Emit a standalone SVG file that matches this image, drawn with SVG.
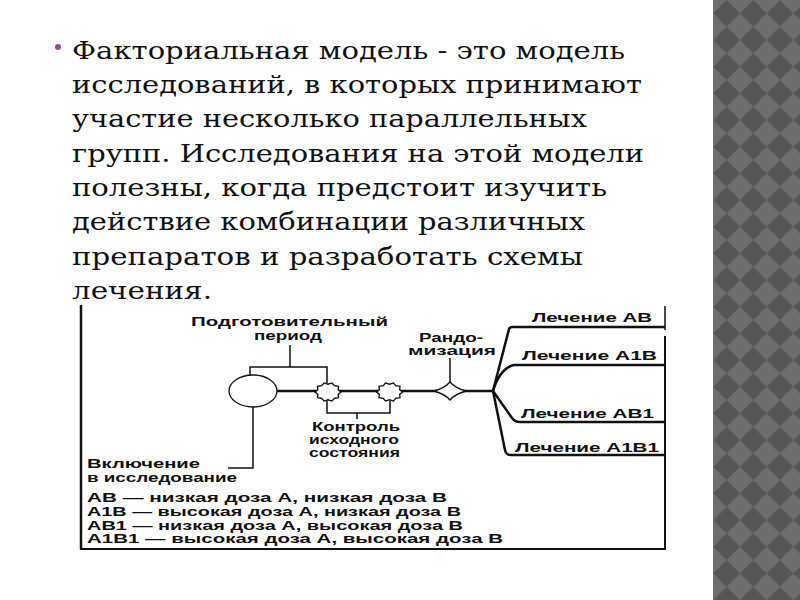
<svg xmlns="http://www.w3.org/2000/svg" width="800" height="600" viewBox="0 0 800 600">
<style>
.mt{font-family:"DejaVu Serif","Liberation Serif",serif;font-size:24px;fill:#111}
.dl{font-family:"Liberation Sans",Arial,sans-serif;font-size:12px;font-weight:bold;fill:#111}
.ln{fill:none;stroke:#111;stroke-width:1.5}
.th{fill:none;stroke:#111;stroke-width:2.5}
.sh{fill:#fff;stroke:#111;stroke-width:1.3}
</style>
<defs>
<pattern id="chk" patternUnits="userSpaceOnUse" x="713.3" y="0" width="26.67" height="26.67">
<rect width="26.67" height="26.67" fill="#6e6e6e"/>
<polygon points="13.33,0 26.67,13.33 13.33,26.67 0,13.33" fill="#565656"/>
</pattern>
<polygon id="star" vector-effect="non-scaling-stroke" points="1,0 0.78,0.25 0.81,0.59 0.48,0.66 0.31,0.95 0,0.82 -0.31,0.95 -0.48,0.66 -0.81,0.59 -0.78,0.25 -1,0 -0.78,-0.25 -0.81,-0.59 -0.48,-0.66 -0.31,-0.95 0,-0.82 0.31,-0.95 0.48,-0.66 0.81,-0.59 0.78,-0.25"/>
</defs>
<rect width="800" height="600" fill="#fff"/>
<rect x="713" y="0" width="87" height="600" fill="url(#chk)"/>

<g id="bullet-text">
<circle cx="58" cy="47" r="3" fill="#9c4596"/>
<text class="mt" x="72" y="59" textLength="553" lengthAdjust="spacingAndGlyphs">Факториальная модель - это модель</text>
<text class="mt" x="72" y="93" textLength="570" lengthAdjust="spacingAndGlyphs">исследований, в которых принимают</text>
<text class="mt" x="72" y="127" textLength="515" lengthAdjust="spacingAndGlyphs">участие несколько параллельных</text>
<text class="mt" x="72" y="162" textLength="572" lengthAdjust="spacingAndGlyphs">групп. Исследования на этой модели</text>
<text class="mt" x="72" y="196" textLength="535" lengthAdjust="spacingAndGlyphs">полезны, когда предстоит изучить</text>
<text class="mt" x="72" y="230" textLength="513" lengthAdjust="spacingAndGlyphs">действие комбинации различных</text>
<text class="mt" x="72" y="265" textLength="511" lengthAdjust="spacingAndGlyphs">препаратов и разработать схемы</text>
<text class="mt" x="72" y="299" textLength="140" lengthAdjust="spacingAndGlyphs">лечения.</text>
</g>

<g id="frame">
<line x1="81" y1="305" x2="81" y2="549" stroke="#111" stroke-width="2.5"/>
<line x1="80" y1="549" x2="666" y2="549" stroke="#111" stroke-width="2"/>
<line x1="665" y1="306" x2="665" y2="330" stroke="#111" stroke-width="1.5"/>
<line x1="665" y1="336" x2="665" y2="549" stroke="#111" stroke-width="2"/>
</g>

<g id="connectors">
<line class="th" x1="277" y1="391" x2="493" y2="391" stroke-width="3"/>
<polyline class="ln" points="250,375 250,367 327,367 327,383"/>
<line class="ln" x1="290" y1="345" x2="290" y2="367"/>
<polyline class="ln" points="327,401 327,413 390,413 390,401"/>
<line class="ln" x1="357" y1="413" x2="357" y2="419"/>
<line class="ln" x1="450" y1="358" x2="450" y2="382"/>
<polyline class="ln" points="253,407 253,468 228,468"/>
<path class="th" d="M493,391 L509,329 Q510,327 513,327 H665"/>
<path class="th" d="M493,391 Q500,368 514,365 H665"/>
<path class="th" d="M493,391 L512,418 Q515,422 520,422 H665"/>
<path class="th" d="M493,391 L505,450 Q506,455 511,455 H665"/>
</g>

<g id="inclusion">
<ellipse class="sh" cx="253" cy="391" rx="24" ry="16"/>
</g>
<g id="control1">
<use href="#star" class="sh" transform="translate(328,392) scale(13,9.5)"/>
</g>
<g id="control2">
<use href="#star" class="sh" transform="translate(389.5,392) scale(13,9.5)"/>
</g>
<g id="randomization">
<path class="sh" d="M434,391 Q445,388 450,382 Q455,388 466,391 Q455,394 450,400 Q445,394 434,391 Z"/>
</g>

<g id="labels">
<text class="dl" x="191" y="326" textLength="197" lengthAdjust="spacingAndGlyphs">Подготовительный</text>
<text class="dl" x="254" y="340" textLength="68" lengthAdjust="spacingAndGlyphs">период</text>
<text class="dl" x="419" y="342" textLength="64" lengthAdjust="spacingAndGlyphs">Рандо-</text>
<text class="dl" x="408" y="355" textLength="88" lengthAdjust="spacingAndGlyphs">мизация</text>
<text class="dl" x="312" y="431" textLength="88" lengthAdjust="spacingAndGlyphs">Контроль</text>
<text class="dl" x="309" y="444" textLength="90" lengthAdjust="spacingAndGlyphs">исходного</text>
<text class="dl" x="309" y="457" textLength="91" lengthAdjust="spacingAndGlyphs">состояния</text>
<text class="dl" x="87" y="468" textLength="113" lengthAdjust="spacingAndGlyphs">Включение</text>
<text class="dl" x="87" y="482" textLength="150" lengthAdjust="spacingAndGlyphs">в исследование</text>
<text class="dl" x="532" y="322" textLength="120" lengthAdjust="spacingAndGlyphs">Лечение AB</text>
<text class="dl" x="522" y="360" textLength="135" lengthAdjust="spacingAndGlyphs">Лечение A1B</text>
<text class="dl" x="521" y="418" textLength="133" lengthAdjust="spacingAndGlyphs">Лечение AB1</text>
<text class="dl" x="515" y="452" textLength="144" lengthAdjust="spacingAndGlyphs">Лечение A1B1</text>
<text class="dl" x="87" y="502" textLength="360" lengthAdjust="spacingAndGlyphs">AB — низкая доза А, низкая доза В</text>
<text class="dl" x="87" y="516" textLength="374" lengthAdjust="spacingAndGlyphs">A1B — высокая доза А, низкая доза В</text>
<text class="dl" x="87" y="530" textLength="376" lengthAdjust="spacingAndGlyphs">AB1 — низкая доза А, высокая доза В</text>
<text class="dl" x="87" y="543" textLength="416" lengthAdjust="spacingAndGlyphs">A1B1 — высокая доза А, высокая доза В</text>
</g>
</svg>
